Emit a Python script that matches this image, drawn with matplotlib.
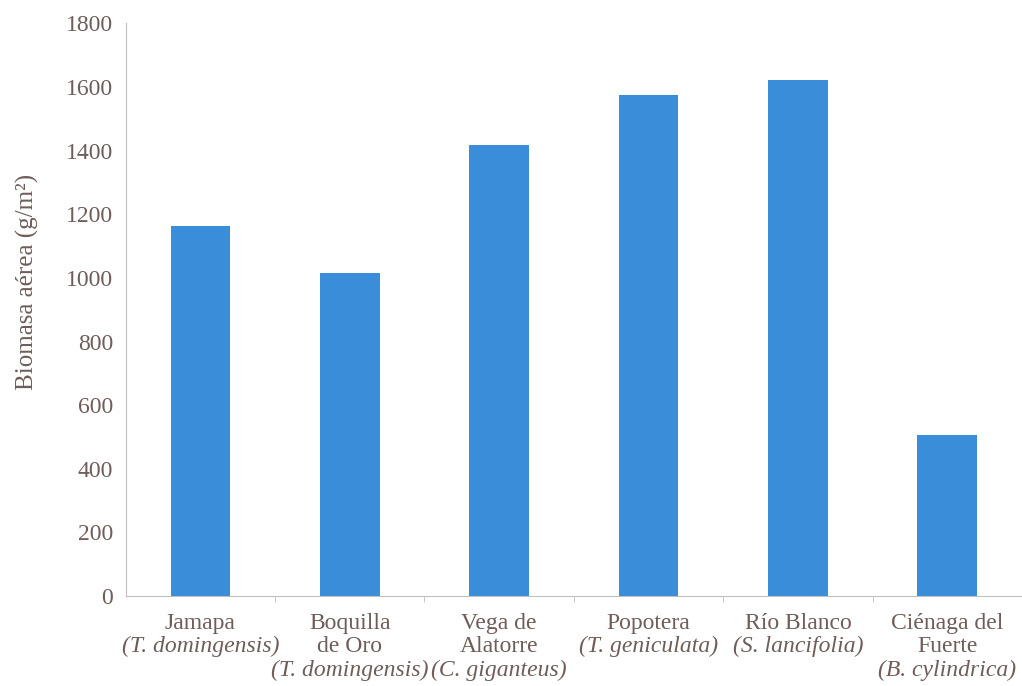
import matplotlib
matplotlib.use("Agg")
from matplotlib import pyplot as plt

# datos
sitios = ["Jamapa", "Boquilla\nde Oro", "Vega de\nAlatorre", "Popotera", "Río Blanco", "Ciénaga del\nFuerte"]
especies = ["(T. domingensis)", "(T. domingensis)", "(C. giganteus)", "(T. geniculata)", "(S. lancifolia)", "(B. cylindrica)"]
biomasa = [1162, 1015, 1417, 1574, 1621, 506]

texto = "#6e5d58"
plt.rcParams["font.family"] = ["Liberation Serif", "DejaVu Serif"]

fig = plt.figure(figsize=(10.22, 6.86), dpi=100)
ax = fig.add_axes([0.123, 0.131, 0.877, 0.835])

x = list(range(len(sitios)))
ax.bar(x, biomasa, width=0.4, color="#3a8dd8")

ax.set_xlim(-0.5, len(sitios) - 0.5)
ax.set_ylim(0, 1800)
ax.set_yticks(range(0, 1801, 200))
ax.tick_params(axis="y", length=0, pad=9, labelsize=17, labelcolor=texto)
ax.set_xticks(x)
ax.set_xticklabels([""] * len(x))
ax.tick_params(axis="x", which="major", length=0)
ax.set_xticks([i + 0.5 for i in x[:-1]], minor=True)
ax.tick_params(axis="x", which="minor", length=4, color="#bfbfbf", direction="out")

for s in ["top", "right"]:
    ax.spines[s].set_visible(False)
ax.spines["left"].set_color("#bfbfbf")
ax.spines["bottom"].set_color("#bfbfbf")

ax.set_ylabel("Biomasa aérea (g/m²)", fontsize=18, color=texto, labelpad=14)
ax.yaxis.set_label_coords(-0.097, 0.548)

# etiquetas de categorias, una linea cada vez
lh = 23.5 * 0.72
for i, (s, e) in enumerate(zip(sitios, especies)):
    lineas = s.split("\n")
    for k, l in enumerate(lineas):
        ax.annotate(l, xy=(i, 0), xycoords=("data", "axes fraction"), xytext=(0, -12 - k * lh),
                    textcoords="offset points", ha="center", va="top", fontsize=17, color=texto)
    ax.annotate(e, xy=(i, 0), xycoords=("data", "axes fraction"), xytext=(0, -12 - len(lineas) * lh),
                textcoords="offset points", ha="center", va="top", fontsize=17,
                color=texto, style="italic")

fig.savefig("out.png", dpi=100)
